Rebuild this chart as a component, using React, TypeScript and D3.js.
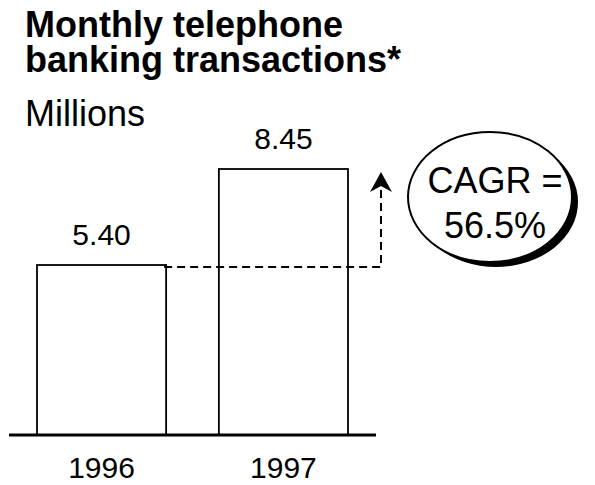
import React from 'react';
import * as d3 from 'd3';

// data
const years = ['1996', '1997'];
const transactions = [5.4, 8.45];
const valueLabels = ['5.40', '8.45'];
const titleLines = ['Monthly telephone', 'banking transactions*'];
const unitLabel = 'Millions';
const cagrLines = ['CAGR =', '56.5%'];

const W = 595;
const H = 485;
const FONT = "'Liberation Sans', Arial, Helvetica, sans-serif";

const App: React.FC = () => {
  const baseY = 435;

  const x = d3.scaleBand<string>()
    .domain(years)
    .range([37, 348])
    .paddingInner(0.29)
    .paddingOuter(0);

  const y = d3.scaleLinear()
    .domain([0, 8.45])
    .range([baseY, 169]);

  const bw = x.bandwidth();
  const firstRight = (x(years[0]) || 0) + bw;
  const dashY = y(transactions[0]) + 2;
  const arrowX = 381;
  const tipY = 172;

  // arrow head
  const head = d3.path();
  head.moveTo(arrowX, tipY);
  head.lineTo(arrowX - 11, tipY + 20);
  head.lineTo(arrowX, tipY + 14);
  head.lineTo(arrowX + 11, tipY + 20);
  head.closePath();

  const ell = { cx: 490, cy: 197, rx: 82, ry: 65 };

  return (
    <svg width={W} height={H} style={{ position: 'absolute', left: 0, top: 0 }} fontFamily={FONT}>
      <rect width={W} height={H} fill="#fff" />

      {/* title */}
      <text x={25} y={37} fontSize={36} fontWeight="bold" fill="#000">{titleLines[0]}</text>
      <text x={25} y={72} fontSize={36} fontWeight="bold" fill="#000">{titleLines[1]}</text>
      <text x={25} y={126} fontSize={36} fill="#000">{unitLabel}</text>

      {/* bars */}
      {years.map((yr, i) => (
        <g key={yr}>
          <rect
            x={x(yr)}
            y={y(transactions[i])}
            width={bw}
            height={baseY - y(transactions[i])}
            fill="#fff"
            stroke="#000"
            strokeWidth={1.8}
          />
          <text
            x={(x(yr) || 0) + bw / 2}
            y={y(transactions[i]) - 20}
            fontSize={30}
            textAnchor="middle"
            fill="#000"
          >{valueLabels[i]}</text>
          <text
            x={(x(yr) || 0) + bw / 2}
            y={478}
            fontSize={30}
            textAnchor="middle"
            fill="#000"
          >{yr}</text>
        </g>
      ))}

      {/* baseline */}
      <line x1={9} x2={376} y1={baseY} y2={baseY} stroke="#000" strokeWidth={3} />

      {/* dashed growth arrow */}
      <path
        d={`M${firstRight - 2},${dashY}H${arrowX}V${tipY + 14}`}
        fill="none"
        stroke="#000"
        strokeWidth={2}
        strokeDasharray="8,5"
      />
      <path d={head.toString()} fill="#000" />

      {/* CAGR bubble */}
      <ellipse cx={ell.cx + 6} cy={ell.cy + 5} rx={ell.rx} ry={ell.ry} fill="#000" />
      <ellipse cx={ell.cx} cy={ell.cy} rx={ell.rx} ry={ell.ry} fill="#fff" stroke="#000" strokeWidth={2} />
      <text x={ell.cx + 5} y={193} fontSize={36} textAnchor="middle" fill="#000">{cagrLines[0]}</text>
      <text x={ell.cx + 5} y={238} fontSize={36} textAnchor="middle" fill="#000">{cagrLines[1]}</text>
    </svg>
  );
};

export default App;
